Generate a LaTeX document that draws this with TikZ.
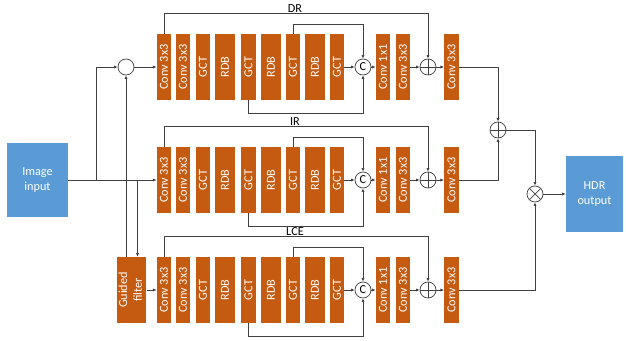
\documentclass[tikz,border=0pt]{standalone}
\usepackage{fontspec}
\setmainfont{Carlito}
\usepackage{graphicx}
\usepackage{tikz}
\usetikzlibrary{arrows.meta,calc}
\definecolor{hdrorange}{HTML}{C55A11}
\definecolor{hdrblue}{HTML}{5B9BD5}
\definecolor{hdrgray}{HTML}{404040}
\newcommand{\vtext}[1]{\rotatebox{90}{#1}}

\begin{document}
\begin{tikzpicture}[
  x=0.025cm, y=-0.025cm,
  font=\fontsize{8.7}{10.5}\selectfont,
  blk/.style={fill=hdrorange, text=white, minimum height=1.65cm, inner sep=0pt},
  nw/.style={minimum width=0.36cm},
  ww/.style={minimum width=0.5cm},
  io/.style={fill=hdrblue, text=white, align=center, inner sep=0pt},
  op/.style={circle, draw=hdrgray, fill=white, line width=0.5pt, minimum size=0.4cm, inner sep=0pt},
  plus/.style={path picture={\draw[hdrgray, line width=0.5pt]
    (path picture bounding box.north) -- (path picture bounding box.south)
    (path picture bounding box.west) -- (path picture bounding box.east);}},
  cross/.style={path picture={\draw[hdrgray, line width=0.5pt]
    (path picture bounding box.north west) -- (path picture bounding box.south east)
    (path picture bounding box.north east) -- (path picture bounding box.south west);}},
  ln/.style={draw=hdrgray, line width=0.5pt},
  arr/.style={ln, -{Latex[length=0.9mm, width=0.8mm]}},
  lab/.style={inner sep=1pt},
]
\useasboundingbox (0,0) rectangle (626,341);

% three branches
\foreach \r/\yc/\lab in {a/67/DR, b/180/IR, c/290/LCE} {
  \node[blk, nw] (\r1) at (164,\yc)   {\vtext{Conv 3x3}};
  \node[blk, nw] (\r2) at (183,\yc)   {\vtext{Conv 3x3}};
  \node[blk, nw] (\r3) at (203,\yc)   {\vtext{GCT}};
  \node[blk, ww] (\r4) at (225,\yc)   {\vtext{RDB}};
  \node[blk, nw] (\r5) at (248.5,\yc) {\vtext{GCT}};
  \node[blk, ww] (\r6) at (271,\yc)   {\vtext{RDB}};
  \node[blk, nw] (\r7) at (293,\yc)   {\vtext{GCT}};
  \node[blk, ww] (\r8) at (315,\yc)   {\vtext{RDB}};
  \node[blk, nw] (\r9) at (337,\yc)   {\vtext{GCT}};
  \node[op] (\r-cat) at (363,\yc) {C};
  \node[blk, nw] (\r10) at (383,\yc)  {\vtext{Conv 1x1}};
  \node[blk, nw] (\r11) at (403,\yc)  {\vtext{Conv 3x3}};
  \node[op, plus] (\r-add) at (428,\yc) {};
  \node[blk, nw] (\r12) at (451.5,\yc) {\vtext{Conv 3x3}};
  \draw[arr] (\r9) -- (\r-cat);
  \draw[arr] (\r-cat) -- (\r10);
  \draw[arr] (\r11) -- (\r-add);
  \draw[arr] (\r-add) -- (\r12);
  \draw[arr] (\r1.north) -- ++(0,-20) -| (\r-add.north);
  \draw[arr] (\r7.north) -- ++(0,-9) -| (\r-cat.north);
  \draw[arr] (\r5.south) -- ++(0,13) -| (\r-cat.south);
  \node[lab, anchor=south] (\r-lab) at (295,\yc-53) {\lab};
}

% input side
\node[io, minimum width=1.525cm, minimum height=1.85cm] (img) at (37.5,180) {Image\\input};
\node[op] (mix) at (126,67) {};
\node[blk, minimum width=0.625cm] (gf) at (131.5,290)
  {\vtext{\begin{tabular}{@{}c@{}}Guided\\filter\end{tabular}}};
\coordinate (split) at (96,180);
\coordinate (gtap) at (137.5,180);
\draw[arr] (img.east) -- (b1.west);
\draw[arr] (split) |- (mix);
\draw[arr] (mix) -- (a1);
\draw[arr] (gtap) -- (gtap |- gf.north);
\draw[arr] (gf.north -| mix) -- (mix);
\draw[arr] (gf) -- (c1);

% output side
\node[op, plus] (sum) at (498,130) {};
\node[op, cross] (mul) at (535,194) {};
\node[io, minimum width=1.425cm, minimum height=1.875cm] (hdr) at (594.5,194) {HDR\\output};
\draw[arr] (a12) -| (sum);
\draw[arr] (b12) -| (sum);
\draw[arr] (sum) -| (mul);
\draw[arr] (c12) -| (mul);
\draw[arr] (mul) -- (hdr);
\end{tikzpicture}
\end{document}
